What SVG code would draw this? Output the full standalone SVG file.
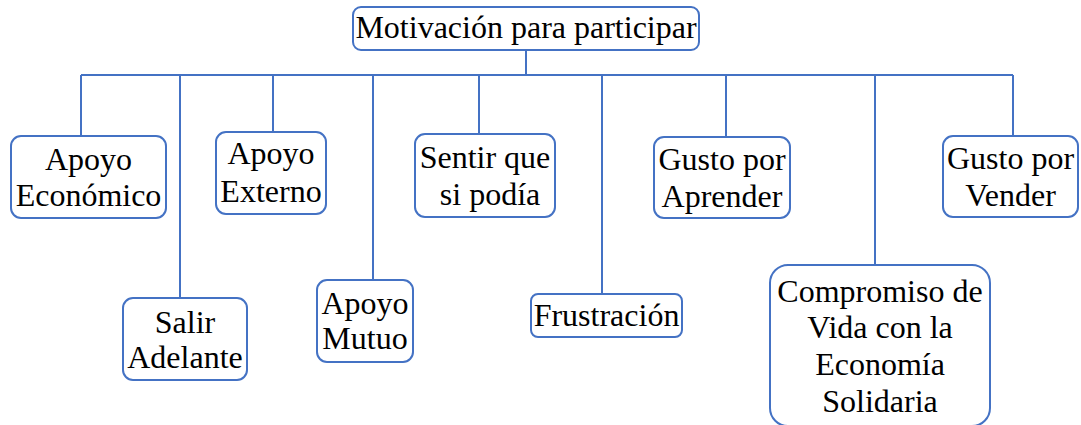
<svg xmlns="http://www.w3.org/2000/svg" width="1081" height="425" viewBox="0 0 1081 425">
<style>
.box{fill:#fff;stroke:#4472C4;stroke-width:2}
.ln{stroke:#4472C4;stroke-width:2;fill:none}
text{font-family:"Liberation Serif","Times New Roman",serif;font-size:32px;fill:#000;text-anchor:middle}
</style>
<rect width="1081" height="425" fill="#fff"/>
<g id="connectors">
<path class="ln" d="M526 50V75M81 75H1013M81 75V136M180 75V298M273 75V132M373 75V280M479 75V134M602 75V294M726 75V137M875 75V265M1013 75V136"/>
</g>
<g id="n0"><rect class="box" x="353" y="7" width="346" height="43" rx="8"/><text x="526" y="38">Motivación para participar</text></g>
<g id="n1"><rect class="box" x="11" y="136" width="155" height="82" rx="10"/><text x="88.5" y="170">Apoyo</text><text x="88.5" y="206">Económico</text></g>
<g id="n2"><rect class="box" x="123" y="298" width="124" height="82" rx="10"/><text x="185" y="333">Salir</text><text x="185" y="368">Adelante</text></g>
<g id="n3"><rect class="box" x="216" y="132" width="110" height="82" rx="10"/><text x="271" y="164">Apoyo</text><text x="271" y="202">Externo</text></g>
<g id="n4"><rect class="box" x="317" y="280" width="96" height="82" rx="10"/><text x="365" y="314">Apoyo</text><text x="365" y="349">Mutuo</text></g>
<g id="n5"><rect class="box" x="415" y="134" width="140" height="83" rx="10"/><text x="485" y="168">Sentir que</text><text x="490" y="205">si podía</text></g>
<g id="n6"><rect class="box" x="531" y="294" width="151" height="43" rx="7"/><text x="606.5" y="326">Frustración</text></g>
<g id="n7"><rect class="box" x="654" y="137" width="136" height="81" rx="10"/><text x="722" y="170">Gusto por</text><text x="722" y="207">Aprender</text></g>
<g id="n8"><rect class="box" x="770" y="265" width="220" height="161" rx="18"/><text x="880" y="302">Compromiso de</text><text x="880" y="338">Vida con la</text><text x="880" y="375">Economía</text><text x="880" y="412">Solidaria</text></g>
<g id="n9"><rect class="box" x="943" y="136" width="135" height="81" rx="10"/><text x="1010.5" y="169">Gusto por</text><text x="1010.5" y="206">Vender</text></g>
</svg>
